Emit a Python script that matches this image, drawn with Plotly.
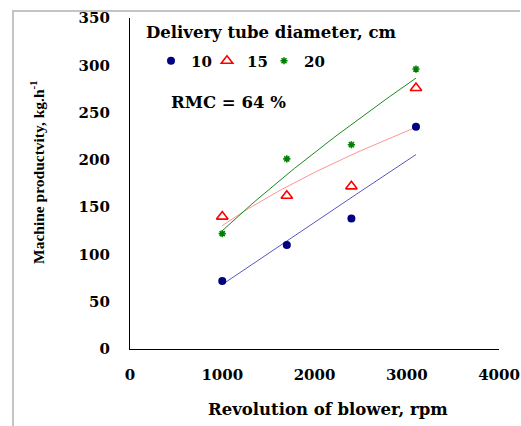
import numpy as np
import plotly.graph_objects as go

# Blower speed (rpm) and measured machine productivity (kg/h) per tube diameter
rpm = [1000, 1700, 2400, 3100]
prod_10cm = [72, 110, 138, 235]
prod_15cm = [140, 162, 172, 276]
prod_20cm = [122, 201, 216, 296]

x_ticks = [0, 1000, 2000, 3000, 4000]
y_ticks = [0, 50, 100, 150, 200, 250, 300, 350]

W, H = 521, 426
M = dict(l=130, r=22, t=18, b=77)
PW, PH = W - M["l"] - M["r"], H - M["t"] - M["b"]

SERIF_W = "DejaVu Serif"
SERIF = "Liberation Serif"


def px_x(p):
    return (p - M["l"]) / PW


def px_y(p):
    return (H - M["b"] - p) / PH


def power_fit(x, y):
    """Least-squares fit of y = a * x**b (fitted in log space)."""
    b, ln_a = np.polyfit(np.log(x), np.log(y), 1)
    xs = np.linspace(min(x), max(x), 60)
    return xs, np.exp(ln_a) * xs ** b


# name, values, marker style, trend-line colour, legend id, legend text x (px)
series = [
    ("10", prod_10cm, dict(symbol="circle", size=8, color="#000080"),
     "#5656c4", "legend", 192),
    ("15", prod_15cm, dict(symbol="triangle-up-open", size=10, color="#ff0000",
                           line=dict(width=1.6, color="#ff0000")),
     "#ff9494", "legend2", 248),
    ("20", prod_20cm, dict(symbol="asterisk-open", size=6, color="#008000",
                           line=dict(width=1.6, color="#008000")),
     "#1a8a1a", "legend3", 305),
]

fig = go.Figure()
for name, vals, marker, line_color, leg, _ in series:
    xs, ys = power_fit(rpm, vals)
    fig.add_trace(go.Scatter(x=xs, y=ys, mode="lines", showlegend=False,
                             hoverinfo="skip",
                             line=dict(color=line_color, width=1)))
for name, vals, marker, line_color, leg, _ in series:
    fig.add_trace(go.Scatter(x=rpm, y=vals, mode="markers", name=name,
                             marker=marker, legend=leg))

bold15 = dict(family=SERIF_W, size=15, color="black", weight="bold")
bold16 = dict(family=SERIF_W, size=16.5, color="black", weight="bold")

legend_layout = {}
for name, vals, marker, line_color, leg, text_x in series:
    legend_layout[leg] = dict(
        orientation="h", x=px_x(text_x - 41), xanchor="left",
        y=px_y(61), yanchor="middle", bgcolor="rgba(0,0,0,0)",
        font=bold15, itemwidth=30)

fig.update_layout(
    width=W, height=H,
    margin=dict(l=M["l"], r=M["r"], t=M["t"], b=M["b"], pad=0, autoexpand=False),
    paper_bgcolor="white", plot_bgcolor="white",
    showlegend=True,
    **legend_layout,
    xaxis=dict(range=[0, 4000], tickvals=x_ticks, ticktext=[str(v) for v in x_ticks],
               showgrid=False, zeroline=False, showline=True, linecolor="black",
               linewidth=1.3, ticks="", tickfont=bold15, ticklabelstandoff=12,
               automargin=False),
    yaxis=dict(range=[0, 350], tickvals=y_ticks, ticktext=[str(v) for v in y_ticks],
               showgrid=False, zeroline=False, showline=True, linecolor="black",
               linewidth=1.3, ticks="", tickfont=bold15, ticklabelstandoff=16,
               automargin=False),
    annotations=[
        dict(text="Delivery tube diameter, cm", xref="paper", yref="paper",
             x=px_x(144), y=px_y(33), xanchor="left", yanchor="middle",
             showarrow=False, font=bold16),
        dict(text="RMC = 64 %", xref="paper", yref="paper",
             x=px_x(169), y=px_y(103), xanchor="left", yanchor="middle",
             showarrow=False, font=bold16),
        dict(text="Revolution of blower, rpm", xref="paper", yref="paper",
             x=px_x(328), y=px_y(410), xanchor="center", yanchor="middle",
             showarrow=False, font=bold16),
        dict(text="Machine productvity, kg.h<sup>-1</sup>", xref="paper", yref="paper",
             x=px_x(37), y=px_y(172), xanchor="center", yanchor="middle",
             textangle=-90, showarrow=False,
             font=dict(family=SERIF, size=15.5, color="black", weight="bold")),
    ],
    shapes=[
        dict(type="line", xref="paper", yref="paper",
             x0=px_x(13), x1=px_x(13), y0=px_y(H + 2), y1=px_y(11),
             line=dict(color="#c4c4c4", width=2)),
        dict(type="line", xref="paper", yref="paper",
             x0=px_x(12), x1=px_x(520), y0=px_y(11), y1=px_y(11),
             line=dict(color="#c4c4c4", width=2)),
    ],
)

fig.write_html("out.html")
